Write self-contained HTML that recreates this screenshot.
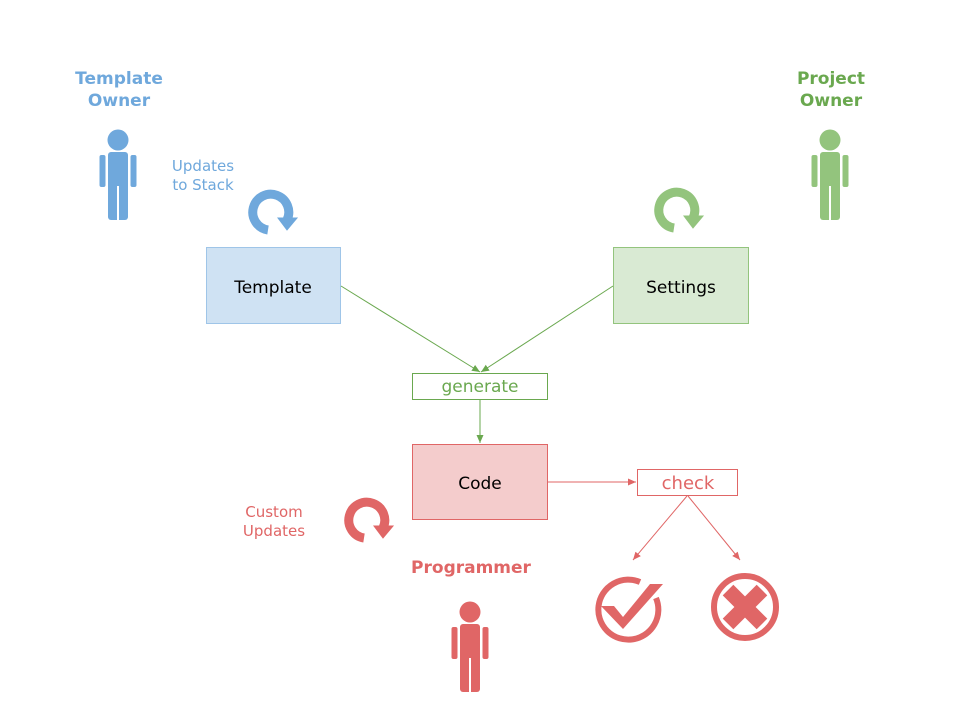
<!DOCTYPE html>
<html><head><meta charset="utf-8"><style>
body{margin:0;background:#fff;}
svg{display:block;font-family:"DejaVu Sans","Liberation Sans",sans-serif;}
</style></head><body>
<svg width="960" height="720" viewBox="0 0 960 720" xmlns="http://www.w3.org/2000/svg">
<defs>
<g id="person">
<circle cx="0" cy="0" r="10.5"/>
<rect x="-10" y="12" width="20" height="68" rx="3"/>
<rect x="-18.5" y="15" width="6" height="32" rx="2"/>
<rect x="12.5" y="15" width="6" height="32" rx="2"/>
<rect x="-1" y="46" width="2" height="36" fill="#fff"/>
</g>
<g id="refresh">
<path d="M -3 18 A 18 18 0 1 1 16 8" fill="none" stroke-width="9"/>
<path d="M 7 6 L 26 6 L 16 18 Z"/>
</g>
<marker id="ag" markerWidth="9" markerHeight="9" refX="8" refY="4.5" orient="auto" markerUnits="userSpaceOnUse"><path d="M0,1 L8,4.5 L0,8 Z" fill="#6aa84f"/></marker>
<marker id="ar" markerWidth="9" markerHeight="9" refX="8" refY="4.5" orient="auto" markerUnits="userSpaceOnUse"><path d="M0,1 L8,4.5 L0,8 Z" fill="#e06666"/></marker>
</defs>

<text x="119" y="84" text-anchor="middle" font-size="17" font-weight="bold" fill="#6fa8dc">Template</text>
<text x="119" y="106" text-anchor="middle" font-size="17" font-weight="bold" fill="#6fa8dc">Owner</text>
<text x="831" y="84" text-anchor="middle" font-size="17" font-weight="bold" fill="#6aa84f">Project</text>
<text x="831" y="106" text-anchor="middle" font-size="17" font-weight="bold" fill="#6aa84f">Owner</text>
<text x="471" y="573" text-anchor="middle" font-size="17" font-weight="bold" fill="#e06666">Programmer</text>
<text x="203" y="171" text-anchor="middle" font-size="15" fill="#6fa8dc">Updates</text>
<text x="203" y="190" text-anchor="middle" font-size="15" fill="#6fa8dc">to Stack</text>
<text x="274" y="517" text-anchor="middle" font-size="15" fill="#e06666">Custom</text>
<text x="274" y="536" text-anchor="middle" font-size="15" fill="#e06666">Updates</text>

<use href="#person" x="118" y="140" fill="#6fa8dc"/>
<use href="#person" x="830" y="140" fill="#93c47d"/>
<use href="#person" x="470" y="612" fill="#e06666"/>

<use href="#refresh" x="271" y="212" fill="#6fa8dc" stroke="#6fa8dc"/>
<use href="#refresh" x="677" y="210" fill="#93c47d" stroke="#93c47d"/>
<use href="#refresh" x="367" y="520" fill="#e06666" stroke="#e06666"/>

<rect x="206.5" y="247.5" width="134" height="76" fill="#cfe2f3" stroke="#9fc5e8"/>
<text x="273" y="293" text-anchor="middle" font-size="17" fill="#000">Template</text>
<rect x="613.5" y="247.5" width="135" height="76" fill="#d9ead3" stroke="#93c47d"/>
<text x="681" y="293" text-anchor="middle" font-size="17" fill="#000">Settings</text>
<rect x="412.5" y="373.5" width="135" height="26" fill="#fff" stroke="#6aa84f"/>
<text x="480" y="392" text-anchor="middle" font-size="17" fill="#6aa84f">generate</text>
<rect x="412.5" y="444.5" width="135" height="75" fill="#f4cccc" stroke="#e06666"/>
<text x="480" y="489" text-anchor="middle" font-size="17" fill="#000">Code</text>
<rect x="637.5" y="469.5" width="100" height="26" fill="#fff" stroke="#e06666"/>
<text x="688" y="489" text-anchor="middle" font-size="18" fill="#e06666">check</text>

<line x1="341" y1="286" x2="480" y2="372" stroke="#6aa84f" stroke-width="1" marker-end="url(#ag)"/>
<line x1="613" y1="286" x2="481" y2="372" stroke="#6aa84f" stroke-width="1" marker-end="url(#ag)"/>
<line x1="480" y1="400" x2="480" y2="443" stroke="#6aa84f" stroke-width="1" marker-end="url(#ag)"/>
<line x1="548" y1="482" x2="636" y2="482" stroke="#e06666" stroke-width="1" marker-end="url(#ar)"/>
<line x1="687" y1="496" x2="633" y2="560" stroke="#e06666" stroke-width="1" marker-end="url(#ar)"/>
<line x1="688" y1="496" x2="740" y2="560" stroke="#e06666" stroke-width="1" marker-end="url(#ar)"/>

<path d="M 656 598 A 30 30 0 1 1 640 582" fill="none" stroke="#e06666" stroke-width="6"/>
<path d="M 601 606 L 614 606 L 623 617 L 650 584 L 663 584 L 623 629 Z" fill="#e06666"/>
<circle cx="745" cy="607" r="31" fill="none" stroke="#e06666" stroke-width="6"/>
<g transform="translate(745,607) rotate(45)" fill="#e06666">
<rect x="-24" y="-7.5" width="48" height="15"/>
<rect x="-7.5" y="-24" width="15" height="48"/>
</g>
</svg>
</body></html>
